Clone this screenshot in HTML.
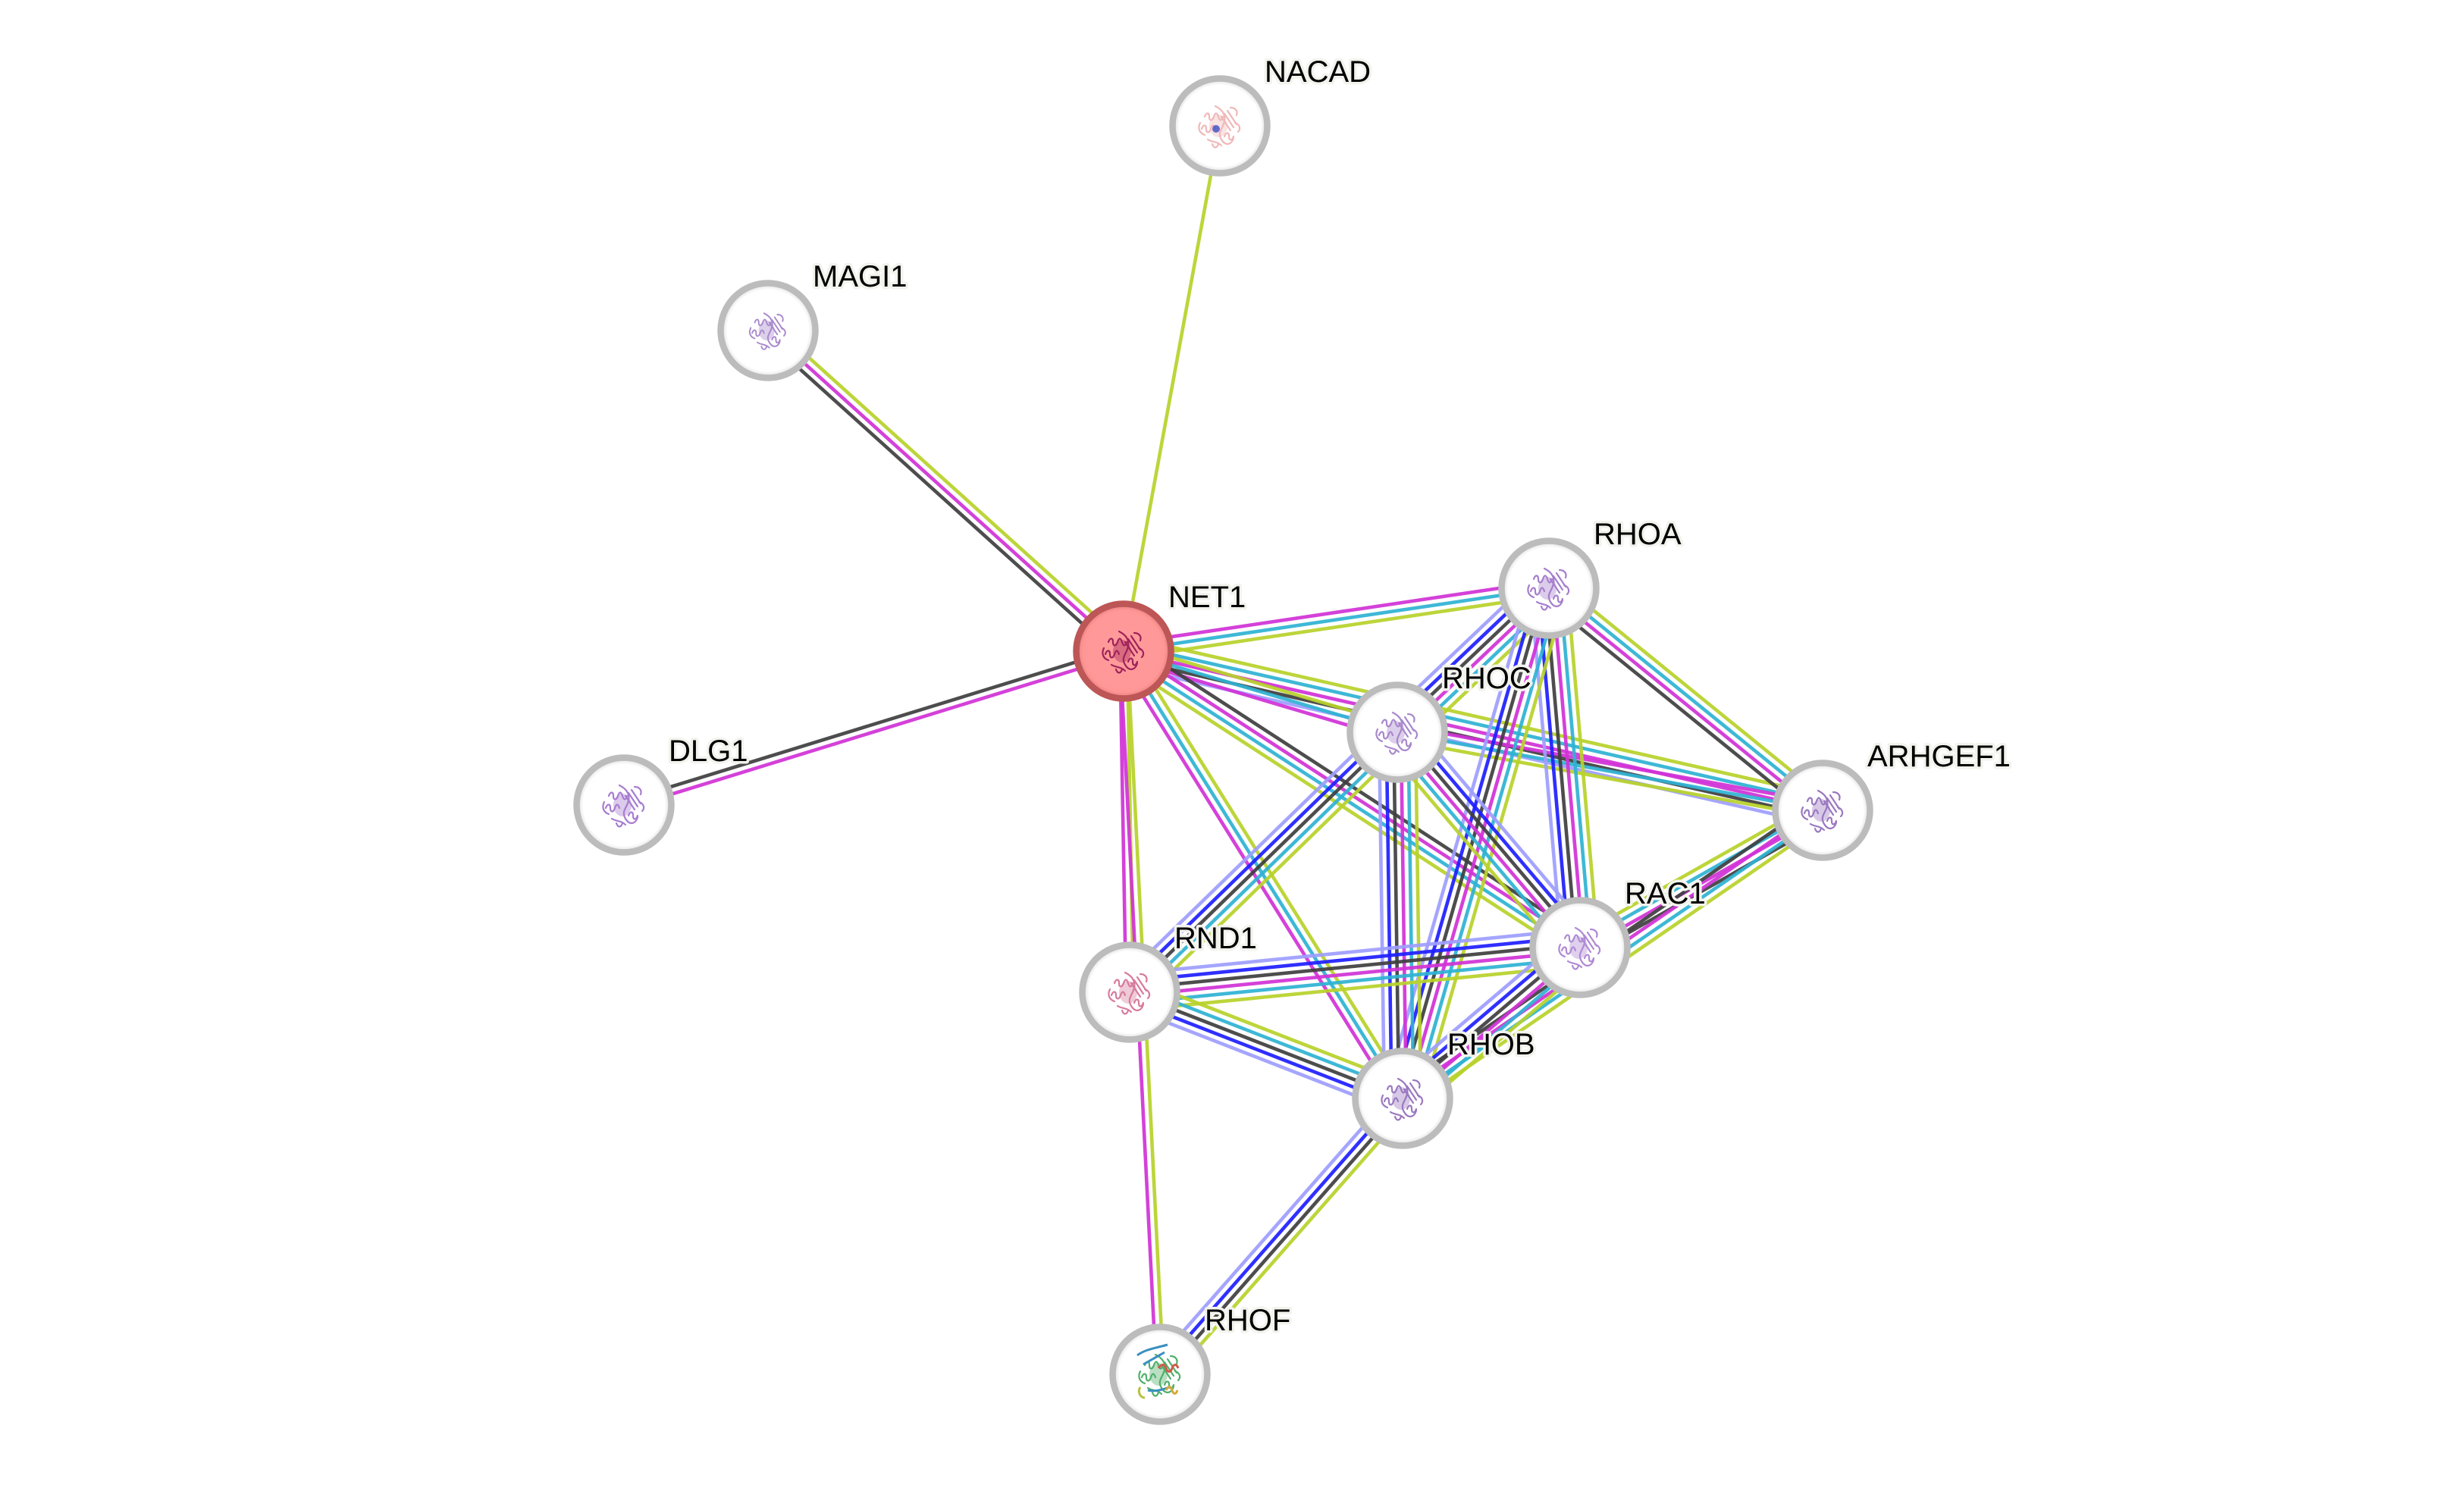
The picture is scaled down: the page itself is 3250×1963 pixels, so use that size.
<!DOCTYPE html>
<html>
<head>
<meta charset="utf-8">
<style>
  html,body{margin:0;padding:0;background:#ffffff;}
  svg{display:block;}
  .e path{fill:none;stroke-width:4.6;stroke-opacity:.93;}
  .l{stroke:#9e9eff;} .b{stroke:#1f1fff;} .k{stroke:#404040;}
  .m{stroke:#d133d6;} .c{stroke:#2fb3d3;} .y{stroke:#b8d22b;}
  .lbl{font-family:"Liberation Sans",Arial,sans-serif;font-size:40px;fill:#000;stroke:#f3f3ee;stroke-width:7px;paint-order:stroke;stroke-linejoin:round;}
</style>
</head>
<body>
<svg width="3250" height="1963" viewBox="0 0 3250 1963" xmlns="http://www.w3.org/2000/svg">
<defs>
  <radialGradient id="ng" cx="50%" cy="50%" r="50%">
    <stop offset="0%" stop-color="#ffffff"/>
    <stop offset="86%" stop-color="#ffffff"/>
    <stop offset="100%" stop-color="#d8d8d8"/>
  </radialGradient>
  <radialGradient id="rg" cx="50%" cy="50%" r="50%">
    <stop offset="0%" stop-color="#ff9c9c"/>
    <stop offset="86%" stop-color="#ff9797"/>
    <stop offset="100%" stop-color="#e27a7a"/>
  </radialGradient>
  <symbol id="p" viewBox="-40 -40 80 80">
    <g fill="none" stroke="currentColor" stroke-width="2.2" stroke-linecap="round">
      <path d="M-20 -12c2-6 6-6 6 0s4 6 6 0 4-6 6 0 4 6 6 0"/>
      <path d="M-24 4c2-6 6-6 6 0s4 6 6 0 4-6 6 0"/>
      <path d="M6 14c2-6 6-6 6 0s4 6 6 0"/>
      <path d="M-6 -26c8 4 14 10 12 20s-10 14-4 24 14 6 16-2"/>
      <path d="M2 -12l12 18M6 -16l12 18M10 -20l12 18"/>
      <path d="M-16 18c6 4 12 2 18 8M-26 -4c-4 8 0 14 6 16M14 -24c6 0 10 4 8 10"/>
      <path d="M-10 24c2 6 6 6 8 0M20 -4c6 2 8 8 4 12"/>
    </g>
    <ellipse cx="-2" cy="0" rx="12" ry="15" fill="currentColor" opacity=".4"/>
  </symbol>
</defs>

<rect width="3250" height="1963" fill="#ffffff"/>

<!-- EDGES -->
<g class="e">
  <g transform="translate(1609 166) rotate(100.38)"><path class="y" d="M0 0H704.5"/></g>
  <g transform="translate(1013 436) rotate(42.05)">
    <path class="k" d="M0 9.6H631.6"/><path class="m" d="M0 0H631.6"/><path class="y" d="M0 -9.6H631.6"/>
  </g>
  <g transform="translate(1482 859) rotate(162.88)">
    <path class="k" d="M0 4.8H689.6"/><path class="m" d="M0 -4.8H689.6"/>
  </g>
  <g transform="translate(2043 776) rotate(171.58)">
    <path class="m" d="M0 9.6H567.1"/><path class="c" d="M0 0H567.1"/><path class="y" d="M0 -9.6H567.1"/>
  </g>
  <g transform="translate(1482 859) rotate(12.83)">
    <path class="l" d="M0 19.2H945.6"/><path class="k" d="M0 9.6H945.6"/><path class="m" d="M0 0H945.6"/><path class="c" d="M0 -9.6H945.6"/><path class="y" d="M0 -19.2H945.6"/>
  </g>
  <g transform="translate(1482 859) rotate(16.51)">
    <path class="m" d="M0 9.6H376.5"/><path class="c" d="M0 0H376.5"/><path class="y" d="M0 -9.6H376.5"/>
  </g>
  <g transform="translate(2084 1250) rotate(-147.0)">
    <path class="k" d="M0 14.4H717.8"/><path class="m" d="M0 4.8H717.8"/><path class="c" d="M0 -4.8H717.8"/><path class="y" d="M0 -14.4H717.8"/>
  </g>
  <g transform="translate(1482 859) rotate(88.98)">
    <path class="m" d="M0 4.8H450.1"/><path class="y" d="M0 -4.8H450.1"/>
  </g>
  <g transform="translate(1482 859) rotate(58.05)">
    <path class="m" d="M0 9.6H695.4"/><path class="c" d="M0 0H695.4"/><path class="y" d="M0 -9.6H695.4"/>
  </g>
  <g transform="translate(1482 859) rotate(87.12)">
    <path class="m" d="M0 4.8H955.2"/><path class="y" d="M0 -4.8H955.2"/>
  </g>
  <g transform="translate(2043 776) rotate(39.07)">
    <path class="k" d="M0 14.4H464.9"/><path class="m" d="M0 4.8H464.9"/><path class="c" d="M0 -4.8H464.9"/><path class="y" d="M0 -14.4H464.9"/>
  </g>
  <g transform="translate(2404 1069) rotate(-169.6)">
    <path class="m" d="M0 9.6H570.4"/><path class="c" d="M0 0H570.4"/><path class="y" d="M0 -9.6H570.4"/>
  </g>
  <g transform="translate(2084 1250) rotate(-29.49)">
    <path class="k" d="M0 14.4H367.6"/><path class="m" d="M0 4.8H367.6"/><path class="c" d="M0 -4.8H367.6"/><path class="y" d="M0 -14.4H367.6"/>
  </g>
  <g transform="translate(2404 1069) rotate(145.55)">
    <path class="k" d="M0 14.4H671.8"/><path class="m" d="M0 4.8H671.8"/><path class="c" d="M0 -4.8H671.8"/><path class="y" d="M0 -14.4H671.8"/>
  </g>
  <g transform="translate(2043 776) rotate(136.47)">
    <path class="l" d="M0 24H275.9"/><path class="b" d="M0 14.4H275.9"/><path class="k" d="M0 4.8H275.9"/><path class="m" d="M0 -4.8H275.9"/><path class="c" d="M0 -14.4H275.9"/><path class="y" d="M0 -24H275.9"/>
  </g>
  <g transform="translate(2043 776) rotate(85.06)">
    <path class="l" d="M0 24H475.8"/><path class="b" d="M0 14.4H475.8"/><path class="k" d="M0 4.8H475.8"/><path class="m" d="M0 -4.8H475.8"/><path class="c" d="M0 -14.4H475.8"/><path class="y" d="M0 -24H475.8"/>
  </g>
  <g transform="translate(2043 776) rotate(106.0)">
    <path class="l" d="M0 24H700.1"/><path class="b" d="M0 14.4H700.1"/><path class="k" d="M0 4.8H700.1"/><path class="m" d="M0 -4.8H700.1"/><path class="c" d="M0 -14.4H700.1"/><path class="y" d="M0 -24H700.1"/>
  </g>
  <g transform="translate(2084 1250) rotate(-130.32)">
    <path class="l" d="M0 24H372.5"/><path class="b" d="M0 14.4H372.5"/><path class="k" d="M0 4.8H372.5"/><path class="m" d="M0 -4.8H372.5"/><path class="c" d="M0 -14.4H372.5"/><path class="y" d="M0 -24H372.5"/>
  </g>
  <g transform="translate(1843 966) rotate(89.17)">
    <path class="l" d="M0 24H483.1"/><path class="b" d="M0 14.4H483.1"/><path class="k" d="M0 4.8H483.1"/><path class="m" d="M0 -4.8H483.1"/><path class="c" d="M0 -14.4H483.1"/><path class="y" d="M0 -24H483.1"/>
  </g>
  <g transform="translate(1843 966) rotate(135.82)">
    <path class="l" d="M0 19.2H492.2"/><path class="b" d="M0 9.6H492.2"/><path class="k" d="M0 0H492.2"/><path class="c" d="M0 -9.6H492.2"/><path class="y" d="M0 -19.2H492.2"/>
  </g>
  <g transform="translate(2084 1250) rotate(174.33)">
    <path class="l" d="M0 24H596.9"/><path class="b" d="M0 14.4H596.9"/><path class="k" d="M0 4.8H596.9"/><path class="m" d="M0 -4.8H596.9"/><path class="c" d="M0 -14.4H596.9"/><path class="y" d="M0 -24H596.9"/>
  </g>
  <g transform="translate(2084 1250) rotate(139.63)">
    <path class="l" d="M0 24H307.2"/><path class="b" d="M0 14.4H307.2"/><path class="k" d="M0 4.8H307.2"/><path class="m" d="M0 -4.8H307.2"/><path class="c" d="M0 -14.4H307.2"/><path class="y" d="M0 -24H307.2"/>
  </g>
  <g transform="translate(1490 1309) rotate(21.25)">
    <path class="l" d="M0 19.2H386.3"/><path class="b" d="M0 9.6H386.3"/><path class="k" d="M0 0H386.3"/><path class="c" d="M0 -9.6H386.3"/><path class="y" d="M0 -19.2H386.3"/>
  </g>
  <g transform="translate(1850 1449) rotate(131.32)">
    <path class="l" d="M0 14.4H484.7"/><path class="b" d="M0 4.8H484.7"/><path class="k" d="M0 -4.8H484.7"/><path class="y" d="M0 -14.4H484.7"/>
  </g>
</g>

<!-- NODES -->
<g>
  <circle cx="1609" cy="166" r="62.5" fill="url(#ng)" stroke="#bcbcbc" stroke-width="8.5"/>
  <use href="#p" x="1569" y="126" width="80" height="80" style="color:#e58a8a" opacity=".6"/>
  <circle cx="1604" cy="170" r="5" fill="#3b4cc0" opacity=".8"/>

  <circle cx="1013" cy="436" r="62.5" fill="url(#ng)" stroke="#bcbcbc" stroke-width="8.5"/>
  <use href="#p" x="978" y="401" width="70" height="70" style="color:#a888cc"/>

  <circle cx="823" cy="1062" r="62.5" fill="url(#ng)" stroke="#bcbcbc" stroke-width="8.5"/>
  <use href="#p" x="783" y="1022" width="80" height="80" style="color:#a77dd0"/>

  <circle cx="2043" cy="776" r="62.5" fill="url(#ng)" stroke="#bcbcbc" stroke-width="8.5"/>
  <use href="#p" x="2003" y="736" width="80" height="80" style="color:#a57fcc"/>

  <circle cx="1843" cy="966" r="62.5" fill="url(#ng)" stroke="#bcbcbc" stroke-width="8.5"/>
  <use href="#p" x="1803" y="926" width="80" height="80" style="color:#a888cc"/>

  <circle cx="2404" cy="1069" r="62.5" fill="url(#ng)" stroke="#bcbcbc" stroke-width="8.5"/>
  <use href="#p" x="2364" y="1029" width="80" height="80" style="color:#9a78c0"/>

  <circle cx="2084" cy="1250" r="62.5" fill="url(#ng)" stroke="#bcbcbc" stroke-width="8.5"/>
  <use href="#p" x="2044" y="1210" width="80" height="80" style="color:#b08ad4"/>

  <circle cx="1490" cy="1309" r="62.5" fill="url(#ng)" stroke="#bcbcbc" stroke-width="8.5"/>
  <use href="#p" x="1450" y="1269" width="80" height="80" style="color:#d77a9c"/>

  <circle cx="1850" cy="1449" r="62.5" fill="url(#ng)" stroke="#bcbcbc" stroke-width="8.5"/>
  <use href="#p" x="1810" y="1409" width="80" height="80" style="color:#9a78c0"/>

  <circle cx="1530" cy="1813" r="62.5" fill="url(#ng)" stroke="#bcbcbc" stroke-width="8.5"/>
  <use href="#p" x="1490" y="1773" width="80" height="80" style="color:#4fb06a"/>
  <path d="M1500 1788c10-8 26-10 40-14M1508 1800l28 -16M1514 1834c8 2 18 0 28 -4" fill="none" stroke="#3a8fbf" stroke-width="3"/>
  <path d="M1528 1805c4-6 8-6 10 0s6 6 8 0 6-6 8 0" fill="none" stroke="#d05a4a" stroke-width="3"/>
  <path d="M1538 1834c3-6 6-6 8 0s5 6 7 0" fill="none" stroke="#d6a838" stroke-width="3"/>
  <path d="M1504 1830c-4 6 0 14 6 14" fill="none" stroke="#b8c040" stroke-width="3"/>

  <circle cx="1482" cy="859" r="62.5" fill="url(#rg)" stroke="#bd5656" stroke-width="8.5"/>
  <use href="#p" x="1442" y="819" width="80" height="80" style="color:#a0225a"/>
</g>

<!-- LABELS -->
<g>
  <text class="lbl" x="1668" y="108">NACAD</text>
  <text class="lbl" x="1072" y="378">MAGI1</text>
  <text class="lbl" x="1541" y="801">NET1</text>
  <text class="lbl" x="882" y="1004">DLG1</text>
  <text class="lbl" x="2102" y="718">RHOA</text>
  <text class="lbl" x="1902" y="908">RHOC</text>
  <text class="lbl" x="2463" y="1011">ARHGEF1</text>
  <text class="lbl" x="2143" y="1192">RAC1</text>
  <text class="lbl" x="1549" y="1251">RND1</text>
  <text class="lbl" x="1909" y="1391">RHOB</text>
  <text class="lbl" x="1589" y="1755">RHOF</text>
</g>
</svg>
</body>
</html>
